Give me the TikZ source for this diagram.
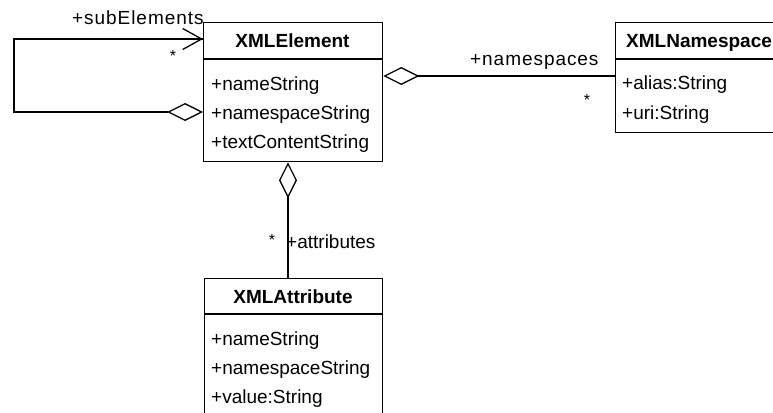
\documentclass[tikz,border=0pt]{standalone}
\usepackage{fontspec}
\setmainfont{Liberation Sans}
\newfontfamily\widefont[LetterSpace=5]{Liberation Sans}
\usetikzlibrary{arrows.meta,calc}
\begin{document}
\begin{tikzpicture}[x=1pt,y=-1pt,
  box/.style={draw,line width=1.3pt,anchor=north west,inner sep=0pt},
  sep/.style={line width=2pt},
  head/.style={font=\fontsize{19}{21}\selectfont\bfseries,anchor=base,inner sep=0pt},
  attr/.style={font=\fontsize{19}{21}\selectfont,anchor=base west,inner sep=0pt},
  lab/.style={font=\fontsize{19}{21}\selectfont,anchor=base west,inner sep=0pt},
  widelab/.style={lab,font=\fontsize{19}{21}\selectfont\widefont},
  star/.style={font=\fontsize{16}{18}\selectfont,inner sep=0pt},
  conn/.style={line width=1.3pt},
  agg/.style={conn,{Diamond[open,length=36pt,width=18pt,line width=1.3pt]}-},
  nav/.style={conn,-{Straight Barb[length=19pt,width=21pt,line width=1.3pt]}}]
\useasboundingbox[clip] (0,0) rectangle (773,412);
\fill[white] (0,0) rectangle (773,412);
% XMLElement
\node[box,minimum width=179pt,minimum height=139pt] (elem) at (203,22) {};
\draw[sep] (203,59) -- (382,59);
\node[head] (elemh) at (292.5,48) {XMLElement};
\node[attr] (e1) at (211,90) {+nameString};
\node[attr] (e2) at (211,119) {+namespaceString};
\node[attr] (e3) at (211,148) {+textContentString};
% XMLNamespace
\node[box,minimum width=200pt,minimum height=110pt] (ns) at (615,22) {};
\draw[sep] (615,59) -- (815,59);
\node[head,anchor=base west] (nsh) at (626,48) {XMLNamespace};
\node[attr] (n1) at (622,89) {+alias:String};
\node[attr] (n2) at (622,119) {+uri:String};
% XMLAttribute
\node[box,minimum width=178pt,minimum height=150pt] (at) at (204,278) {};
\draw[sep] (204,314) -- (382,314);
\node[head] (ath) at (293,303) {XMLAttribute};
\node[attr] (a1) at (211,345) {+nameString};
\node[attr] (a2) at (211,374) {+namespaceString};
\node[attr] (a3) at (211,403) {+value:String};
% self association
\coordinate (lt) at (14,39);
\coordinate (lb) at (14,112);
\draw[agg] (elem.west |- lb) -- (lb) -- (lt) -- (elem.west |- lt);
\draw[nav] ($(elem.west |- lt)+(-1,0)$) -- (elem.west |- lt);
\node[widelab] (l1) at (72,25) {+subElements};
\node[star] (s1) at (173,56) {*};
% namespaces
\draw[agg] (elem.east |- 0,76) -- (ns.west |- 0,76);
\node[widelab] (l2) at (470,65) {+namespaces};
\node[star] (s2) at (587,100) {*};
% attributes
\draw[agg] (elem.south -| 288,0) -- (at.north -| 288,0);
\node[star] (s3) at (272,240) {*};
\node[lab] (l3) at (286,248) {+attributes};
\end{tikzpicture}
\end{document}
